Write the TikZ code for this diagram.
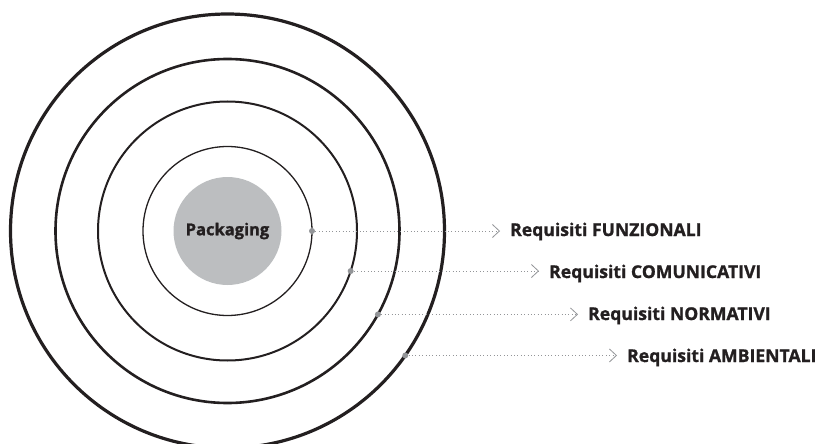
\documentclass[tikz,border=0pt]{standalone}
\usepackage{fontspec}
\setmainfont{Open Sans}[BoldFeatures={FakeBold=1.2}]
\usetikzlibrary{arrows.meta}
\definecolor{ink}{HTML}{231F20}
\definecolor{disc}{HTML}{BCBEC0}
\definecolor{dotgray}{HTML}{939598}
\tikzset{
  ring/.style={circle, draw=ink, inner sep=0pt, outer sep=0pt},
  pin/.style={circle, fill=dotgray, inner sep=0pt, minimum size=6pt},
  lead/.style={draw=dotgray, line width=0.8pt, dash pattern=on 0.8pt off 2.6pt,
    -{Straight Barb[length=7pt, width=13pt, line width=0.8pt]}},
  req/.style={anchor=base west, inner sep=0pt, text=ink, font=\fontsize{17.6}{20}\selectfont\bfseries}
}
\begin{document}
\begin{tikzpicture}[x=1pt, y=-1pt]
\useasboundingbox (0,0) rectangle (823,444);
\coordinate (C) at (227.5,231);
\node[ring, minimum size=434pt, line width=3.2pt] (c4) at (C) {};
\node[ring, minimum size=344pt, line width=2.6pt] (c3) at (C) {};
\node[ring, minimum size=259pt, line width=2pt] (c2) at (C) {};
\node[ring, minimum size=169pt, line width=1.3pt] (c1) at (C) {};
\node[circle, fill=disc, inner sep=0pt, minimum size=108pt, text=ink,
  font=\fontsize{16.5}{20}\selectfont\bfseries] (pk) at (C) {Packaging};
\coordinate (p1) at (c1.0);
\coordinate (p2) at (c2.-18.9);
\coordinate (p3) at (c3.-29.2);
\coordinate (p4) at (c4.-35.5);
\node[req] (r1) at (510,236) {Requisiti FUNZIONALI};
\node[req] (r2) at (549,278) {Requisiti COMUNICATIVI};
\node[req] (r3) at (588,320) {Requisiti NORMATIVI};
\node[req] (r4) at (627,362) {Requisiti AMBIENTALI};
\draw[lead] (p1) -- ([xshift=-10pt]r1.west |- p1);
\draw[lead] (p2) -- ([xshift=-10pt]r2.west |- p2);
\draw[lead] (p3) -- ([xshift=-10pt]r3.west |- p3);
\draw[lead] (p4) -- ([xshift=-10pt]r4.west |- p4);
\node[pin] (d1) at (p1) {};
\node[pin] (d2) at (p2) {};
\node[pin] (d3) at (p3) {};
\node[pin] (d4) at (p4) {};
\end{tikzpicture}
\end{document}
